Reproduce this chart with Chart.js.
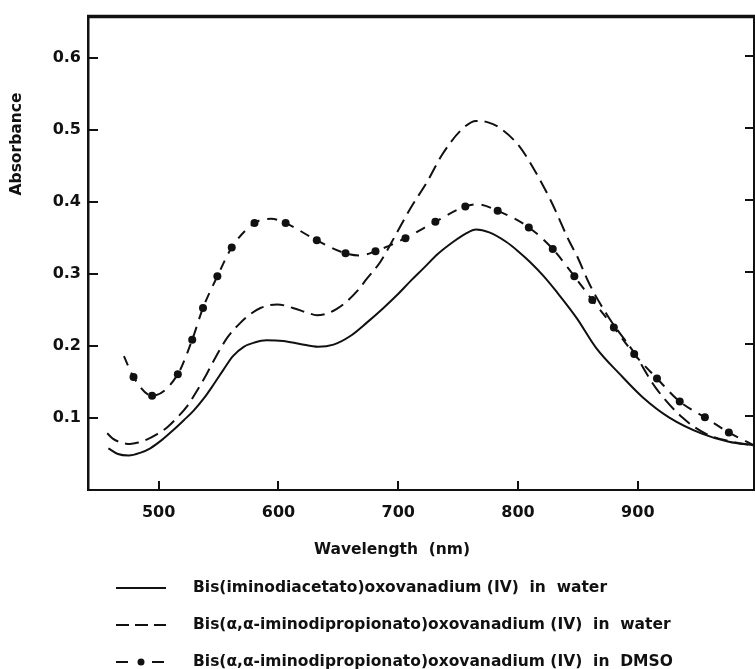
<!DOCTYPE html>
<html>
<head>
<meta charset="utf-8">
<script src="https://cdn.jsdelivr.net/npm/chart.js@4.4.1/dist/chart.umd.min.js"></script>
<style>
  html, body { margin: 0; padding: 0; background: #fff; }
  canvas { display: block; }
</style>
</head>
<body>
<canvas id="spectra" width="755" height="669"></canvas>
<script>
// values: wavelength in nm, absorbance
const idaWaterWl = [458, 466, 475, 485, 493, 503, 512, 521, 529, 538, 546, 554, 562, 571, 580, 590, 604, 618, 633, 646, 660, 674, 687, 699, 710, 721, 733, 746, 756, 765, 776, 790, 800, 810, 821, 832, 849, 865, 885, 904, 926, 954, 976, 997];
const idaWaterAbs = [0.058, 0.050, 0.048, 0.052, 0.058, 0.070, 0.083, 0.097, 0.110, 0.128, 0.147, 0.167, 0.186, 0.199, 0.205, 0.208, 0.207, 0.203, 0.199, 0.202, 0.214, 0.233, 0.252, 0.271, 0.290, 0.308, 0.328, 0.345, 0.356, 0.362, 0.358, 0.345, 0.332, 0.317, 0.298, 0.276, 0.239, 0.198, 0.161, 0.129, 0.101, 0.078, 0.067, 0.062];

const idpWaterWl = [457, 462, 467, 476, 483, 490, 498, 507, 515, 524, 532, 540, 548, 557, 568, 577, 585, 599, 612, 625, 632, 640, 648, 657, 666, 674, 685, 697, 710, 724, 737, 753, 765, 775, 785, 801, 815, 828, 843, 849, 860, 876, 896, 915, 937, 957, 979, 997];
const idpWaterAbs = [0.079, 0.071, 0.067, 0.064, 0.066, 0.070, 0.077, 0.087, 0.100, 0.117, 0.138, 0.161, 0.186, 0.211, 0.232, 0.245, 0.253, 0.258, 0.253, 0.246, 0.243, 0.245, 0.251, 0.262, 0.277, 0.294, 0.317, 0.352, 0.391, 0.428, 0.467, 0.501, 0.513, 0.511, 0.503, 0.478, 0.441, 0.400, 0.345, 0.326, 0.285, 0.239, 0.193, 0.142, 0.101, 0.078, 0.067, 0.062];

const idpDmsoWl = [471, 479, 494.5, 516, 528, 537, 549, 561, 580, 594, 606, 632, 656, 668, 681, 706, 731, 756, 766, 783, 809, 829, 847, 862, 880, 897, 916, 935, 956, 976, 997];
const idpDmsoAbs = [0.186, 0.157, 0.131, 0.161, 0.209, 0.253, 0.297, 0.337, 0.371, 0.377, 0.371, 0.347, 0.329, 0.326, 0.332, 0.350, 0.373, 0.394, 0.397, 0.388, 0.365, 0.335, 0.297, 0.264, 0.226, 0.189, 0.155, 0.123, 0.101, 0.080, 0.062];
// 1 where the DMSO trace carries a dot marker
const idpDmsoDot = [0, 1, 1, 1, 1, 1, 1, 1, 1, 0, 1, 1, 1, 0, 1, 1, 1, 1, 0, 1, 1, 1, 1, 1, 1, 1, 1, 1, 1, 1, 0];

const xTickValues = [500, 600, 700, 800, 900];
const yTickValues = [0.1, 0.2, 0.3, 0.4, 0.5, 0.6];

const seriesLabels = [
  'Bis(iminodiacetato)oxovanadium (IV)  in  water',
  'Bis(α,α-iminodipropionato)oxovanadium (IV)  in  water',
  'Bis(α,α-iminodipropionato)oxovanadium (IV)  in  DMSO'
];
const xTitle = 'Wavelength  (nm)';
const yTitle = 'Absorbance';

const ink = '#111';
const face = '"DejaVu Sans", sans-serif';

const toPoints = (xs, ys) => xs.map((x, i) => ({ x: x, y: ys[i] }));

// frame, inward ticks, axis titles and the key under the plot
const framePlugin = {
  id: 'frame',
  afterDraw(chart) {
    const { ctx, chartArea: a, scales: { x, y } } = chart;
    ctx.save();
    ctx.strokeStyle = ink;
    ctx.fillStyle = ink;
    ctx.setLineDash([]);

    ctx.lineWidth = 3.5;
    ctx.beginPath();
    ctx.moveTo(a.left - 1, a.top);
    ctx.lineTo(a.right + 1, a.top);
    ctx.stroke();

    ctx.lineWidth = 2;
    ctx.beginPath();
    ctx.moveTo(a.right, a.top);
    ctx.lineTo(a.right, a.bottom);
    ctx.stroke();

    ctx.beginPath();
    x.ticks.forEach(t => {
      const px = Math.round(x.getPixelForValue(t.value));
      ctx.moveTo(px, a.bottom);
      ctx.lineTo(px, a.bottom - 9);
    });
    y.ticks.forEach(t => {
      const py = Math.round(y.getPixelForValue(t.value));
      ctx.moveTo(a.left, py);
      ctx.lineTo(a.left + 10, py);
      ctx.moveTo(a.right, py - 2);
      ctx.lineTo(a.right - 9, py - 2);
    });
    ctx.stroke();

    // axis titles
    ctx.font = 'bold 15.5px ' + face;
    ctx.textAlign = 'center';
    ctx.textBaseline = 'middle';
    ctx.fillText(xTitle, 392, 550);
    ctx.save();
    ctx.translate(17, 144);
    ctx.rotate(-Math.PI / 2);
    ctx.fillText(yTitle, 0, 0);
    ctx.restore();

    // key
    const rows = [588, 625, 662];
    const keyDash = [[], [13, 6], [12, 24]];
    ctx.textAlign = 'left';
    chart.data.datasets.forEach((ds, i) => {
      const ry = rows[i];
      ctx.lineWidth = 2;
      ctx.setLineDash(keyDash[i]);
      ctx.beginPath();
      ctx.moveTo(116, ry);
      ctx.lineTo(166, ry);
      ctx.stroke();
      ctx.setLineDash([]);
      if (i === 2) {
        ctx.beginPath();
        ctx.arc(141, ry, 3.5, 0, Math.PI * 2);
        ctx.fill();
      }
      ctx.fillText(ds.label, 193, ry);
    });
    ctx.restore();
  }
};

new Chart(document.getElementById('spectra'), {
  type: 'line',
  data: {
    datasets: [
      {
        label: seriesLabels[0],
        data: toPoints(idaWaterWl, idaWaterAbs),
        borderColor: ink,
        borderWidth: 2,
        pointRadius: 0,
        cubicInterpolationMode: 'monotone'
      },
      {
        label: seriesLabels[1],
        data: toPoints(idpWaterWl, idpWaterAbs),
        borderColor: ink,
        borderWidth: 2,
        borderDash: [14, 7],
        pointRadius: 0,
        cubicInterpolationMode: 'monotone'
      },
      {
        label: seriesLabels[2],
        data: toPoints(idpDmsoWl, idpDmsoAbs),
        borderColor: ink,
        borderWidth: 2,
        borderDash: [10, 8],
        pointRadius: idpDmsoDot.map(d => d ? 4 : 0),
        pointBackgroundColor: ink,
        pointBorderWidth: 0,
        cubicInterpolationMode: 'monotone'
      }
    ]
  },
  options: {
    responsive: false,
    animation: false,
    devicePixelRatio: 1,
    layout: { padding: { top: 13, right: 1, left: 0, bottom: 0 } },
    plugins: {
      legend: { display: false },
      tooltip: { enabled: false }
    },
    scales: {
      x: {
        type: 'linear',
        min: 441,
        max: 997,
        afterBuildTicks: s => { s.ticks = xTickValues.map(v => ({ value: v })); },
        afterFit: s => { s.height = 179; },
        grid: { display: false, drawTicks: false },
        border: { color: ink, width: 2 },
        ticks: { color: ink, padding: 13, font: { family: face, size: 16, weight: 'bold' }, maxRotation: 0 }
      },
      y: {
        min: 0,
        max: 0.658,
        afterBuildTicks: s => { s.ticks = yTickValues.map(v => ({ value: v })); },
        afterFit: s => { s.width = 88; },
        grid: { display: false, drawTicks: false },
        border: { color: ink, width: 2.5 },
        ticks: { color: ink, padding: 7, font: { family: face, size: 16, weight: 'bold' }, callback: v => v.toFixed(1) }
      }
    }
  },
  plugins: [framePlugin]
});
</script>
</body>
</html>
